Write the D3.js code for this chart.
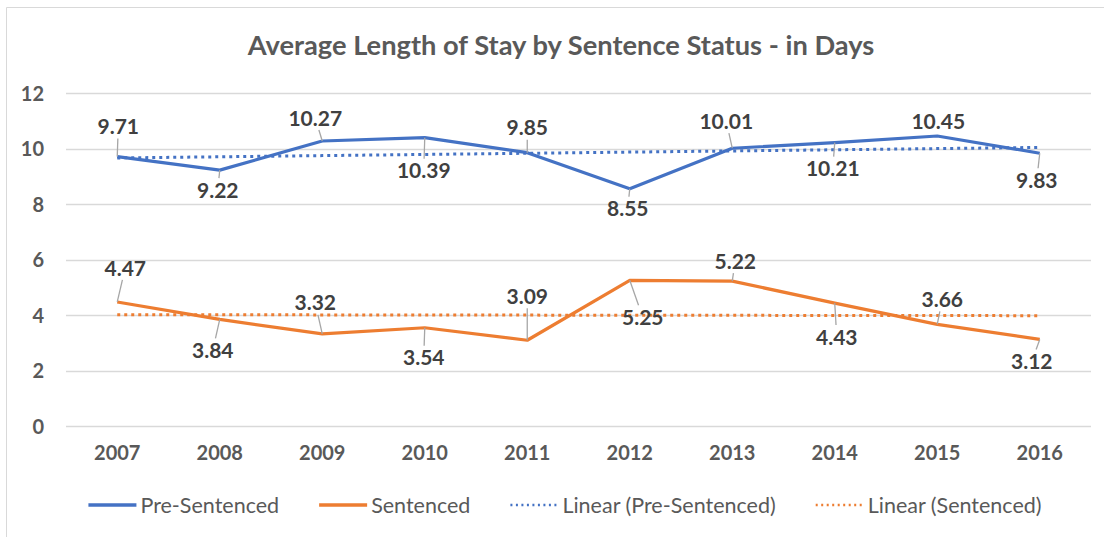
<!DOCTYPE html>
<html><head><meta charset="utf-8">
<script src="https://cdn.jsdelivr.net/npm/d3@7"></script>
<style>body{margin:0;background:#fff;} svg{display:block;}</style>
</head><body>
<svg id="c" width="1104" height="537"></svg>
<script>
const title = "Average Length of Stay by Sentence Status - in Days";
const years = ["2007","2008","2009","2010","2011","2012","2013","2014","2015","2016"];
const preSentenced = [9.71, 9.22, 10.27, 10.39, 9.85, 8.55, 10.01, 10.21, 10.45, 9.83];
const sentenced = [4.47, 3.84, 3.32, 3.54, 3.09, 5.25, 5.22, 4.43, 3.66, 3.12];
const yTicks = [0, 2, 4, 6, 8, 10, 12];
const seriesNames = ["Pre-Sentenced", "Sentenced"];

// label nudges (layout only, px relative to each point)
const preLabelNudge = [[1,-30],[-2,20],[-7,-23],[-1,33],[0,-25],[-2,20],[-6,-27],[-2,26],[1,-15],[-3,27]];
const senLabelNudge = [[8,-34],[-7,31],[-7,-31],[-1,30],[0,-44],[13,37],[3,-20],[2,34],[5,-25],[-8,22]];

const svg = d3.select("#c");
const W = 1104, H = 537;
const colors = ["#4472C4", "#ED7D31"];
const font = "Lato, 'Open Sans', sans-serif";

// border
svg.append("path").attr("d", `M6.5,${H} V7.5 H${W}`).attr("fill","none").attr("stroke","#d9d9d9").attr("stroke-width",1);

const x = d3.scaleBand().domain(years).range([66, 1091]);
const y = d3.scaleLinear().domain([0, 12]).range([426, 93]);
const cx = d => x(d) + x.bandwidth()/2;

// title
const t = svg.append("text").attr("x", 561).attr("y", 55).attr("text-anchor","middle")
  .attr("font-family", font).attr("font-weight","bold").attr("font-size", 22).attr("fill","#595959").text(title);
const tw = t.node().getComputedTextLength();
t.attr("font-size", 22 * 627 / tw);

// grid
svg.append("g").selectAll("line").data(yTicks).join("line")
  .attr("x1", 66).attr("x2", 1091).attr("y1", d => Math.round(y(d))+0.5).attr("y2", d => Math.round(y(d))+0.5)
  .attr("stroke", "#d9d9d9").attr("stroke-width", 1.5);

// y axis
const ya = svg.append("g").attr("transform","translate(50,0)")
  .call(d3.axisLeft(y).tickValues(yTicks).tickSize(0).tickPadding(6));
ya.select(".domain").remove();
ya.selectAll("text").attr("font-family", font).attr("font-weight","bold").attr("font-size",20).attr("fill","#595959").attr("dy","0.35em");

// x axis
const xa = svg.append("g").attr("transform","translate(0,426)")
  .call(d3.axisBottom(x).tickSize(0).tickPadding(19));
xa.select(".domain").remove();
xa.selectAll("text").attr("font-family", font).attr("font-weight","bold").attr("font-size",20).attr("fill","#595959").attr("dy","0.75em");

// trendlines (linear regression)
function regress(vals) {
  const n = vals.length, mx = (n-1)/2, my = d3.mean(vals);
  let sxy = 0, sxx = 0;
  vals.forEach((v,i) => { sxy += (i-mx)*(v-my); sxx += (i-mx)*(i-mx); });
  const b = sxy/sxx, a = my - b*mx;
  return vals.map((v,i) => a + b*i);
}
const line = d3.line().x((d,i) => cx(years[i])).y(d => y(d));
const allSeries = [preSentenced, sentenced];
allSeries.forEach((vals, k) => {
  svg.append("path").attr("d", line(regress(vals))).attr("fill","none")
    .attr("stroke", colors[k]).attr("stroke-width", 3).attr("stroke-dasharray","3 4");
});
allSeries.forEach((vals, k) => {
  svg.append("path").attr("d", line(vals)).attr("fill","none")
    .attr("stroke", colors[k]).attr("stroke-width", 3.2).attr("stroke-linejoin","round");
});

// data labels with leader lines
const nudges = [preLabelNudge, senLabelNudge];
allSeries.forEach((vals, k) => {
  const g = svg.append("g");
  vals.forEach((v, i) => {
    const px = cx(years[i]), py = y(v);
    const [dx, dy] = nudges[k][i];
    const lx = px + dx, ly = py + dy;
    const txt = g.append("text").attr("x", lx).attr("y", ly).attr("text-anchor","middle").attr("dy","0.36em")
      .attr("font-family", font).attr("font-weight","bold").attr("font-size",21).attr("fill","#404040").text(v.toFixed(2));
    const bw = txt.node().getComputedTextLength()/2 + 1, bh = 12;
    const vx = px - lx, vy = py - ly;
    const s = Math.min(vx !== 0 ? bw/Math.abs(vx) : Infinity, vy !== 0 ? bh/Math.abs(vy) : Infinity);
    const ex = lx + vx*s, ey = ly + vy*s;
    const dist = Math.hypot(px-ex, py-ey);
    if (s < 1 && dist > 7) {
      g.insert("line", "text").attr("x1", ex).attr("y1", ey).attr("x2", px).attr("y2", py)
        .attr("stroke", "#a6a6a6").attr("stroke-width", 1.3);
    }
  });
});

// legend
const legendItems = [
  {name: seriesNames[0], color: colors[0], dash: null},
  {name: seriesNames[1], color: colors[1], dash: null},
  {name: "Linear (" + seriesNames[0] + ")", color: colors[0], dash: "2 3.5"},
  {name: "Linear (" + seriesNames[1] + ")", color: colors[1], dash: "2 3.5"}
];
const lg = svg.append("g");
let lx = 0;
const legendFont = 21.5, gap = 40;
legendItems.forEach(it => {
  const gi = lg.append("g");
  gi.append("line").attr("x1",0).attr("x2",48).attr("y1",0).attr("y2",0)
    .attr("stroke", it.color).attr("stroke-width", it.dash ? 2.6 : 3.4).attr("stroke-dasharray", it.dash);
  const tx = gi.append("text").attr("x", 52).attr("y", 0).attr("dy","0.35em")
    .attr("font-family", font).attr("font-size", legendFont).attr("fill", "#595959").text(it.name);
  const w = 52 + tx.node().getComputedTextLength();
  gi.attr("transform", `translate(${lx},0)`);
  lx += w + gap;
});
const total = lx - gap;
lg.attr("transform", `translate(${565 - total/2},505)`);
</script>
</body></html>
